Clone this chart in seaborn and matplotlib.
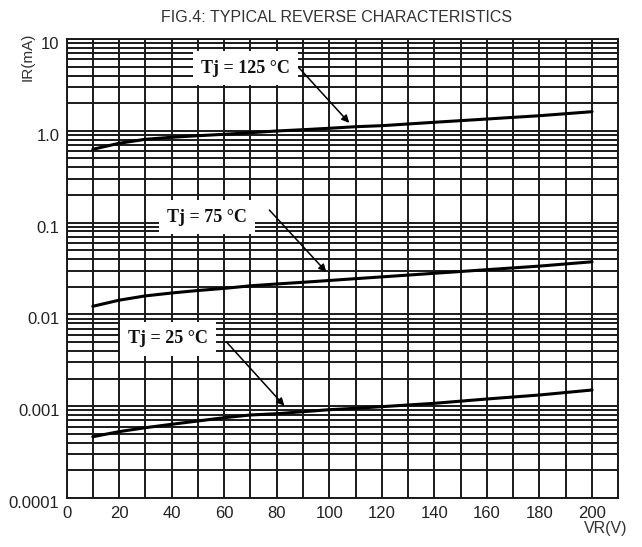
import numpy as np
import pandas as pd
import matplotlib
matplotlib.use("Agg")
import matplotlib.pyplot as plt
import matplotlib.transforms as mtransforms
from matplotlib.ticker import FixedLocator, LogLocator, NullFormatter
import seaborn as sns

# ---- data ----
vr = [10, 20, 30, 40, 50, 60, 70, 80, 90, 100, 110, 120, 140, 160, 180, 200]
ir_125 = [0.629, 0.731, 0.808, 0.850, 0.884, 0.916, 0.953, 0.995, 1.028, 1.065,
          1.108, 1.137, 1.238, 1.344, 1.460, 1.615]
ir_75 = [0.01225, 0.01428, 0.01590, 0.01710, 0.01821, 0.01920, 0.02049, 0.02144,
         0.02238, 0.02341, 0.02450, 0.02562, 0.02804, 0.03069, 0.03359, 0.03741]
ir_25 = [0.000465, 0.000528, 0.000583, 0.000635, 0.000690, 0.000749, 0.000802,
         0.000828, 0.000871, 0.000916, 0.000949, 0.000988, 0.001075, 0.001198,
         0.001324, 0.001501]

series_labels = ["Tj = 125 °C", "Tj = 75 °C", "Tj = 25 °C"]
x_ticks = [0, 20, 40, 60, 80, 100, 120, 140, 160, 180, 200]
y_ticks = [0.0001, 0.001, 0.01, 0.1, 1.0, 10]
y_ticklabels = ["0.0001", "0.001", "0.01", "0.1", "1.0", "10"]

# annotation anchors (text centre, arrow start, arrow tip) in data units
ann_text = [(68.1, 4.83), (53.3, 0.115), (38.5, 0.0054)]
ann_start = [(87.5, 5.21), (77.2, 0.137), (60.9, 0.0050)]
ann_tip = [(107.6, 1.22), (98.9, 0.0290), (82.9, 0.00101)]

df = pd.DataFrame({
    "VR": vr * 3,
    "IR": ir_125 + ir_75 + ir_25,
    "series": [series_labels[0]] * len(vr) + [series_labels[1]] * len(vr)
              + [series_labels[2]] * len(vr),
})

sns.set_style("white")
plt.rcParams["font.family"] = ["Liberation Sans", "DejaVu Sans"]

fig = plt.figure(figsize=(6.42, 5.47), dpi=100)
ax = fig.add_axes([0.1036, 0.0896, 0.8595, 0.8391])

sns.lineplot(data=df, x="VR", y="IR", hue="series", units="series",
             estimator=None, palette=["black"] * 3, linewidth=2.2,
             legend=False, ax=ax, zorder=5)

ax.set_yscale("log")
ax.set_xlim(0, 210)
ax.set_ylim(1e-4, 10)

# grid
ax.xaxis.set_major_locator(FixedLocator(x_ticks))
ax.xaxis.set_minor_locator(FixedLocator(np.arange(0, 211, 10)))
ax.yaxis.set_major_locator(FixedLocator(y_ticks))
ax.yaxis.set_minor_locator(LogLocator(base=10, subs=np.arange(2, 10)))
ax.yaxis.set_minor_formatter(NullFormatter())
ax.set_yticklabels(y_ticklabels)
ax.grid(True, which="both", axis="both", color="#1a1a1a", linewidth=1.4)
ax.set_axisbelow(True)
ax.tick_params(which="both", length=0)
ax.tick_params(axis="y", pad=5, labelsize=12, colors="#222222")
ax.tick_params(axis="x", pad=6, labelsize=12, colors="#222222")
for s in ax.spines.values():
    s.set_color("#1a1a1a")
    s.set_linewidth(1.4)

# shift y tick labels slightly down as in the reference
off = mtransforms.ScaledTranslation(0, -4 / 100, fig.dpi_scale_trans)
for lab in ax.get_yticklabels():
    lab.set_transform(lab.get_transform() + off)

ax.set_xlabel("")
ax.set_ylabel("")

# annotations
for lab, (tx, ty), (sx, sy), (hx, hy) in zip(series_labels, ann_text, ann_start, ann_tip):
    ax.annotate("", xy=(hx, hy), xytext=(sx, sy),
                arrowprops=dict(arrowstyle="-|>", color="black", lw=1.1,
                                mutation_scale=11, shrinkA=0, shrinkB=0),
                zorder=7)
    ax.text(tx, ty, lab, ha="center", va="center", fontsize=13,
            fontweight="bold", family=["Liberation Serif", "DejaVu Serif"],
            color="#111111", zorder=8,
            bbox=dict(boxstyle="square,pad=0.45", fc="white", ec="none"))

fig.text(337 / 642, 1 - 17 / 547, "FIG.4: TYPICAL REVERSE CHARACTERISTICS",
         ha="center", va="center", fontsize=11.5, color="#333333")
fig.text(28 / 642, 1 - 57 / 547, "IR(mA)", rotation=90, ha="center",
         va="center", fontsize=11, color="#333333")
fig.text(606 / 642, 1 - 529 / 547, "VR(V)", ha="center", va="center",
         fontsize=11.5, color="#333333")

fig.savefig("out.png", dpi=100)
